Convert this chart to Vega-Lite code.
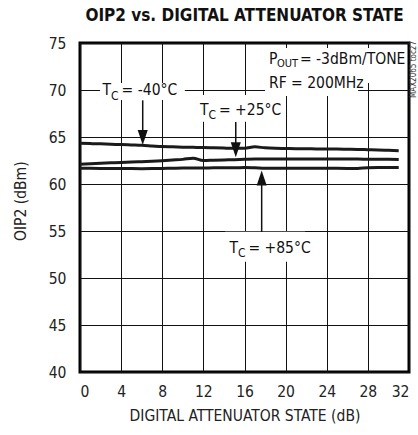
{
  "$schema": "https://vega.github.io/schema/vega-lite/v6.json",
  "autosize": {"type": "none"},
  "padding": {"left": 80, "top": 43, "right": 9, "bottom": 63},
  "width": 329,
  "height": 329,
  "background": "white",
  "config": {
    "font": "DejaVu Sans Condensed, sans-serif",
    "view": {"stroke": "black", "strokeWidth": 3},
    "axis": {
      "labelFont": "DejaVu Sans Condensed, sans-serif",
      "titleFont": "DejaVu Sans Condensed, sans-serif",
      "labelFontSize": 15.5, "titleFontSize": 15.5,
      "labelColor": "#222", "titleColor": "#222",
      "titleFontWeight": "normal",
      "grid": true, "gridColor": "#111", "gridWidth": 1, "gridOpacity": 1,
      "domain": false, "ticks": false
    }
  },
  "title": {
    "text": "OIP2 vs. DIGITAL ATTENUATOR STATE",
    "font": "DejaVu Sans Condensed, sans-serif",
    "fontSize": 17, "fontWeight": "bold", "color": "#111",
    "anchor": "middle", "frame": "group", "offset": 11
  },
  "datasets": {
    "curves": [
      {"state": 0, "temp": "-40", "oip2": 64.33}, {"state": 1, "temp": "-40", "oip2": 64.3}, {"state": 2, "temp": "-40", "oip2": 64.27}, {"state": 3, "temp": "-40", "oip2": 64.23},
      {"state": 4, "temp": "-40", "oip2": 64.2}, {"state": 5, "temp": "-40", "oip2": 64.16}, {"state": 6, "temp": "-40", "oip2": 64.12}, {"state": 7, "temp": "-40", "oip2": 64.05},
      {"state": 8, "temp": "-40", "oip2": 63.98}, {"state": 9, "temp": "-40", "oip2": 63.95}, {"state": 10, "temp": "-40", "oip2": 63.92}, {"state": 11, "temp": "-40", "oip2": 63.9},
      {"state": 12, "temp": "-40", "oip2": 63.88}, {"state": 13, "temp": "-40", "oip2": 63.85}, {"state": 14, "temp": "-40", "oip2": 63.82}, {"state": 15, "temp": "-40", "oip2": 63.8},
      {"state": 16, "temp": "-40", "oip2": 63.8}, {"state": 17, "temp": "-40", "oip2": 63.95}, {"state": 18, "temp": "-40", "oip2": 63.85}, {"state": 19, "temp": "-40", "oip2": 63.8},
      {"state": 20, "temp": "-40", "oip2": 63.78}, {"state": 21, "temp": "-40", "oip2": 63.76}, {"state": 22, "temp": "-40", "oip2": 63.75}, {"state": 23, "temp": "-40", "oip2": 63.73},
      {"state": 24, "temp": "-40", "oip2": 63.72}, {"state": 25, "temp": "-40", "oip2": 63.72}, {"state": 26, "temp": "-40", "oip2": 63.7}, {"state": 27, "temp": "-40", "oip2": 63.68},
      {"state": 28, "temp": "-40", "oip2": 63.65}, {"state": 29, "temp": "-40", "oip2": 63.62}, {"state": 30, "temp": "-40", "oip2": 63.58}, {"state": 31, "temp": "-40", "oip2": 63.55},
      {"state": 0, "temp": "+25", "oip2": 62.1}, {"state": 1, "temp": "+25", "oip2": 62.15}, {"state": 2, "temp": "+25", "oip2": 62.2}, {"state": 3, "temp": "+25", "oip2": 62.25},
      {"state": 4, "temp": "+25", "oip2": 62.3}, {"state": 5, "temp": "+25", "oip2": 62.33}, {"state": 6, "temp": "+25", "oip2": 62.38}, {"state": 7, "temp": "+25", "oip2": 62.42},
      {"state": 8, "temp": "+25", "oip2": 62.48}, {"state": 9, "temp": "+25", "oip2": 62.55}, {"state": 10, "temp": "+25", "oip2": 62.62}, {"state": 11, "temp": "+25", "oip2": 62.75},
      {"state": 12, "temp": "+25", "oip2": 62.5}, {"state": 13, "temp": "+25", "oip2": 62.53}, {"state": 14, "temp": "+25", "oip2": 62.56}, {"state": 15, "temp": "+25", "oip2": 62.58},
      {"state": 16, "temp": "+25", "oip2": 62.62}, {"state": 17, "temp": "+25", "oip2": 62.65}, {"state": 18, "temp": "+25", "oip2": 62.65}, {"state": 19, "temp": "+25", "oip2": 62.66},
      {"state": 20, "temp": "+25", "oip2": 62.66}, {"state": 21, "temp": "+25", "oip2": 62.65}, {"state": 22, "temp": "+25", "oip2": 62.66}, {"state": 23, "temp": "+25", "oip2": 62.66},
      {"state": 24, "temp": "+25", "oip2": 62.65}, {"state": 25, "temp": "+25", "oip2": 62.66}, {"state": 26, "temp": "+25", "oip2": 62.65}, {"state": 27, "temp": "+25", "oip2": 62.65},
      {"state": 28, "temp": "+25", "oip2": 62.63}, {"state": 29, "temp": "+25", "oip2": 62.62}, {"state": 30, "temp": "+25", "oip2": 62.62}, {"state": 31, "temp": "+25", "oip2": 62.6},
      {"state": 0, "temp": "+85", "oip2": 61.67}, {"state": 1, "temp": "+85", "oip2": 61.67}, {"state": 2, "temp": "+85", "oip2": 61.66}, {"state": 3, "temp": "+85", "oip2": 61.65},
      {"state": 4, "temp": "+85", "oip2": 61.65}, {"state": 5, "temp": "+85", "oip2": 61.64}, {"state": 6, "temp": "+85", "oip2": 61.63}, {"state": 7, "temp": "+85", "oip2": 61.64},
      {"state": 8, "temp": "+85", "oip2": 61.66}, {"state": 9, "temp": "+85", "oip2": 61.68}, {"state": 10, "temp": "+85", "oip2": 61.7}, {"state": 11, "temp": "+85", "oip2": 61.7},
      {"state": 12, "temp": "+85", "oip2": 61.71}, {"state": 13, "temp": "+85", "oip2": 61.72}, {"state": 14, "temp": "+85", "oip2": 61.73}, {"state": 15, "temp": "+85", "oip2": 61.73},
      {"state": 16, "temp": "+85", "oip2": 61.75}, {"state": 17, "temp": "+85", "oip2": 61.72}, {"state": 18, "temp": "+85", "oip2": 61.68}, {"state": 19, "temp": "+85", "oip2": 61.67},
      {"state": 20, "temp": "+85", "oip2": 61.67}, {"state": 21, "temp": "+85", "oip2": 61.67}, {"state": 22, "temp": "+85", "oip2": 61.67}, {"state": 23, "temp": "+85", "oip2": 61.67},
      {"state": 24, "temp": "+85", "oip2": 61.67}, {"state": 25, "temp": "+85", "oip2": 61.67}, {"state": 26, "temp": "+85", "oip2": 61.66}, {"state": 27, "temp": "+85", "oip2": 61.66},
      {"state": 28, "temp": "+85", "oip2": 61.74}, {"state": 29, "temp": "+85", "oip2": 61.75}, {"state": 30, "temp": "+85", "oip2": 61.75}, {"state": 31, "temp": "+85", "oip2": 61.75}
    ],
    "boxes": [
      {"x": 1.95, "x2": 10.2, "y": 68.94, "y2": 70.74},
      {"x": 11.2, "x2": 19.3, "y": 66.63, "y2": 69.47},
      {"x": 14.1, "x2": 21.9, "y": 51.73, "y2": 54.93},
      {"x": 18.0, "x2": 31.8, "y": 70.74, "y2": 74.47},
      {"x": 18.0, "x2": 27.05, "y": 69.36, "y2": 70.74}
    ],
    "arrowsDown": [
      {"x": 6.1, "top": 68.9, "head": 64.95},
      {"x": 15.15, "top": 66.6, "head": 63.65}
    ],
    "arrowsUp": [
      {"x": 17.67, "bottom": 54.9, "head": 60.65}
    ],
    "tlabels": [
      {"x": 2.2, "y": 69.45, "rest": "= -40°C"},
      {"x": 11.67, "y": 67.38, "rest": "= +25°C"},
      {"x": 14.53, "y": 52.7, "rest": "= +85°C"}
    ],
    "pout": [{"x": 18.38, "y": 72.77}],
    "rf": [{"x": 18.38, "y": 70.2, "text": "RF = 200MHz"}],
    "tag": [{"x": 32.5, "y": 69.15, "text": "MAX2065 toc27"}]
  },
  "layer": [
    {
      "data": {"name": "boxes"},
      "mark": {"type": "rect", "fill": "white", "stroke": null},
      "encoding": {
        "x": {"field": "x", "type": "quantitative", "scale": {"domain": [0, 32], "nice": false}, "axis": {"values": [0, 4, 8, 12, 16, 20, 24, 28, 32], "title": "DIGITAL ATTENUATOR STATE (dB)", "labelPadding": 12, "titleY": 48, "titleBaseline": "alphabetic"}},
        "x2": {"field": "x2"},
        "y": {"field": "y", "type": "quantitative", "scale": {"domain": [40, 75], "nice": false}, "axis": {"values": [40, 45, 50, 55, 60, 65, 70, 75], "title": "OIP2 (dBm)", "labelPadding": 14, "titleX": -55, "titleY": 157.7, "titleBaseline": "alphabetic", "titleAngle": 270}},
        "y2": {"field": "y2"}
      }
    },
    {
      "data": {"name": "curves"},
      "mark": {"type": "line", "color": "#1a1a1a", "strokeWidth": 3, "interpolate": "monotone"},
      "encoding": {
        "x": {"field": "state", "type": "quantitative"},
        "y": {"field": "oip2", "type": "quantitative"},
        "detail": {"field": "temp"}
      }
    },
    {
      "data": {"name": "arrowsDown"},
      "mark": {"type": "rule", "color": "#111", "strokeWidth": 1.5},
      "encoding": {"x": {"field": "x", "type": "quantitative"}, "y": {"field": "top", "type": "quantitative"}, "y2": {"field": "head"}}
    },
    {
      "data": {"name": "arrowsDown"},
      "mark": {"type": "point", "shape": "M-0.67,-1L0.67,-1L0,1Z", "filled": true, "color": "#111", "size": 225, "opacity": 1},
      "encoding": {"x": {"field": "x", "type": "quantitative"}, "y": {"field": "head", "type": "quantitative"}}
    },
    {
      "data": {"name": "arrowsUp"},
      "mark": {"type": "rule", "color": "#111", "strokeWidth": 1.5},
      "encoding": {"x": {"field": "x", "type": "quantitative"}, "y": {"field": "bottom", "type": "quantitative"}, "y2": {"field": "head"}}
    },
    {
      "data": {"name": "arrowsUp"},
      "mark": {"type": "point", "shape": "M-0.67,1L0.67,1L0,-1Z", "filled": true, "color": "#111", "size": 225, "opacity": 1},
      "encoding": {"x": {"field": "x", "type": "quantitative"}, "y": {"field": "head", "type": "quantitative"}}
    },
    {
      "data": {"name": "tlabels"},
      "mark": {"type": "text", "align": "left", "baseline": "alphabetic", "fontSize": 15.5, "color": "#111"},
      "encoding": {"x": {"field": "x", "type": "quantitative"}, "y": {"field": "y", "type": "quantitative"}, "text": {"value": "T"}}
    },
    {
      "data": {"name": "tlabels"},
      "mark": {"type": "text", "align": "left", "baseline": "alphabetic", "fontSize": 12, "dx": 8.5, "dy": 4.4, "color": "#111"},
      "encoding": {"x": {"field": "x", "type": "quantitative"}, "y": {"field": "y", "type": "quantitative"}, "text": {"value": "C"}}
    },
    {
      "data": {"name": "tlabels"},
      "mark": {"type": "text", "align": "left", "baseline": "alphabetic", "fontSize": 15.5, "dx": 19, "color": "#111"},
      "encoding": {"x": {"field": "x", "type": "quantitative"}, "y": {"field": "y", "type": "quantitative"}, "text": {"field": "rest"}}
    },
    {
      "data": {"name": "pout"},
      "mark": {"type": "text", "align": "left", "baseline": "alphabetic", "fontSize": 15.5, "color": "#111"},
      "encoding": {"x": {"field": "x", "type": "quantitative"}, "y": {"field": "y", "type": "quantitative"}, "text": {"value": "P"}}
    },
    {
      "data": {"name": "pout"},
      "mark": {"type": "text", "align": "left", "baseline": "alphabetic", "fontSize": 11, "dx": 8, "dy": 3, "color": "#111"},
      "encoding": {"x": {"field": "x", "type": "quantitative"}, "y": {"field": "y", "type": "quantitative"}, "text": {"value": "OUT"}}
    },
    {
      "data": {"name": "pout"},
      "mark": {"type": "text", "align": "left", "baseline": "alphabetic", "fontSize": 15.5, "dx": 31, "color": "#111"},
      "encoding": {"x": {"field": "x", "type": "quantitative"}, "y": {"field": "y", "type": "quantitative"}, "text": {"value": "= -3dBm/TONE"}}
    },
    {
      "data": {"name": "rf"},
      "mark": {"type": "text", "align": "left", "baseline": "alphabetic", "fontSize": 15.5, "color": "#111"},
      "encoding": {"x": {"field": "x", "type": "quantitative"}, "y": {"field": "y", "type": "quantitative"}, "text": {"field": "text"}}
    },
    {
      "data": {"name": "tag"},
      "mark": {"type": "text", "align": "left", "baseline": "middle", "angle": 270, "fontSize": 8, "color": "#333"},
      "encoding": {"x": {"field": "x", "type": "quantitative"}, "y": {"field": "y", "type": "quantitative"}, "text": {"field": "text"}}
    }
  ]
}
